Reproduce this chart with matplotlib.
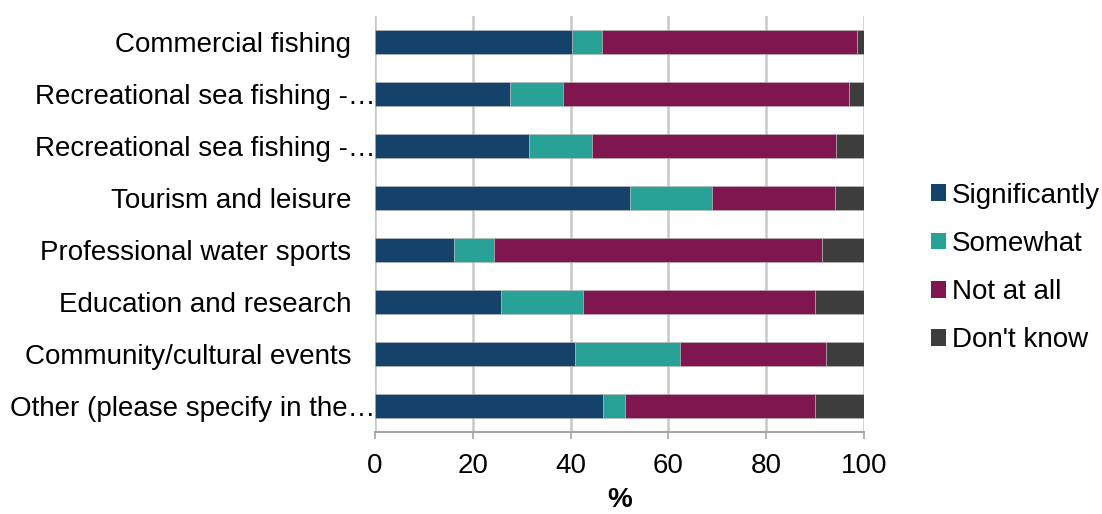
import matplotlib
matplotlib.use("Agg")
import matplotlib.pyplot as plt
from matplotlib.transforms import ScaledTranslation
from matplotlib.patches import Patch
import numpy as np

plt.rcParams['font.family'] = ['Liberation Sans', 'DejaVu Sans']

categories = [
    "Commercial fishing",
    "Recreational sea fishing -…",
    "Recreational sea fishing -…",
    "Tourism and leisure",
    "Professional water sports",
    "Education and research",
    "Community/cultural events",
    "Other (please specify in the…",
]
series_names = ["Significantly", "Somewhat", "Not at all", "Don't know"]
significantly = [40.2, 27.7, 31.4, 52.1, 16.2, 25.7, 41.0, 46.6]
somewhat      = [6.3, 10.8, 13.0, 16.9, 8.2, 16.9, 21.3, 4.6]
not_at_all    = [52.1, 58.5, 49.9, 25.1, 67.1, 47.4, 29.9, 38.8]
dont_know     = [1.4, 3.0, 5.7, 5.9, 8.5, 10.0, 7.8, 10.0]
colors = ["#14426B", "#28A197", "#801650", "#3D3D3D"]
x_ticks = [0, 20, 40, 60, 80, 100]

fig = plt.figure(figsize=(11.02, 5.14), dpi=100)
ax = fig.add_axes([375/1102, 1 - 432/514, (864-375)/1102, (432-16)/514])

y = np.arange(len(categories))
left = np.zeros(len(categories))
for name, vals, col in zip(series_names, [significantly, somewhat, not_at_all, dont_know], colors):
    ax.barh(y, vals, left=left, height=0.48, color=col, edgecolor='#BBBBBB', linewidth=0.4, zorder=3)
    left += np.array(vals)

ax.set_ylim(len(categories) - 0.5, -0.5)
ax.set_xlim(0, 100)
ax.set_xticks(x_ticks)
ax.set_xticklabels([str(t) for t in x_ticks], fontsize=20)
ax.set_yticks(y)
ax.set_yticklabels(categories, fontsize=20)
ax.tick_params(axis='y', length=0, pad=17)
ax.tick_params(axis='x', length=5, width=1.2, color='#A6A6A6', pad=10)
ax.grid(axis='x', color='#C8C8C8', linewidth=1.8, zorder=0)
ax.set_axisbelow(True)
for s in ['top', 'right', 'left']:
    ax.spines[s].set_visible(False)
ax.spines['bottom'].set_color('#A6A6A6')
ax.spines['bottom'].set_linewidth(1.5)

ax.set_xlabel('%', fontsize=20, fontweight='bold', labelpad=6)

# truncated labels sit closer to the axis
for lab in ax.get_yticklabels():
    if lab.get_text().endswith('…'):
        lab.set_transform(lab.get_transform() + ScaledTranslation(24/100, 0, fig.dpi_scale_trans))

handles = [Patch(facecolor=c, edgecolor='none') for c in colors]
leg = fig.legend(handles, series_names, loc='center left', bbox_to_anchor=(920/1102, 1 - 268/514),
                 frameon=False, fontsize=20, handlelength=0.55, handleheight=0.55,
                 handletextpad=0.2, labelspacing=0.8, borderaxespad=0)

fig.savefig('out.png', dpi=100)
